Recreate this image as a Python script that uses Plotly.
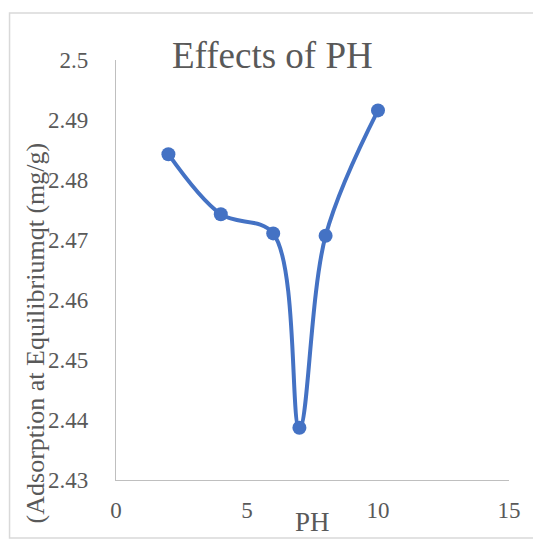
import plotly.graph_objects as go

# pH values and equilibrium adsorption qt (mg/g)
ph = [2, 4, 6, 7, 8, 10]
qt = [2.4843, 2.4743, 2.4711, 2.4387, 2.4707, 2.4916]

x_ticks = [0, 5, 10, 15]
y_ticks = [2.43, 2.44, 2.45, 2.46, 2.47, 2.48, 2.49, 2.5]
y_tick_text = ["2.43", "2.44", "2.45", "2.46", "2.47", "2.48", "2.49", "2.5"]

W, H = 533, 541
ML, MR, MT, MB = 116, 22, 60, 61
PW, PH_ = W - ML - MR, H - MT - MB

FONT = "Liberation Serif"
GREY = "#595959"
BLUE = "#4472C4"


def px_x(p):
    return (p - ML) / PW


def px_y(p):
    return (H - MB - p) / PH_


fig = go.Figure()
fig.add_trace(go.Scatter(
    x=ph, y=qt,
    mode="lines+markers",
    line=dict(color=BLUE, width=4, shape="spline", smoothing=1.0),
    marker=dict(color=BLUE, size=14),
    showlegend=False,
    hoverinfo="x+y",
))

fig.update_layout(
    width=W, height=H,
    margin=dict(l=ML, r=MR, t=MT, b=MB),
    paper_bgcolor="white",
    plot_bgcolor="white",
    font=dict(family=FONT, color=GREY, size=23),
    xaxis=dict(
        range=[0, 15], tickvals=x_ticks, showgrid=False, zeroline=False,
        showline=True, linecolor="#bfbfbf", linewidth=1.2, ticks="",
        ticklabelstandoff=9, tickfont=dict(size=23, color=GREY, family=FONT),
    ),
    yaxis=dict(
        range=[2.43, 2.5], tickvals=y_ticks, ticktext=y_tick_text,
        showgrid=False, zeroline=False,
        showline=True, linecolor="#bfbfbf", linewidth=1.2, ticks="",
        ticklabelstandoff=22, tickfont=dict(size=23, color=GREY, family=FONT),
    ),
    shapes=[dict(
        type="rect", xref="paper", yref="paper",
        x0=px_x(9), x1=px_x(545), y0=px_y(538), y1=px_y(13),
        line=dict(color="#d9d9d9", width=1.5), fillcolor="rgba(0,0,0,0)",
        layer="below",
    )],
    annotations=[
        dict(text="Effects of PH", xref="paper", yref="paper",
             x=px_x(273), y=px_y(55), xanchor="center", yanchor="middle",
             showarrow=False, font=dict(size=37, color=GREY, family=FONT)),
        dict(text="PH", xref="paper", yref="paper",
             x=px_x(313), y=px_y(522), xanchor="center", yanchor="middle",
             showarrow=False, font=dict(size=27, color=GREY, family=FONT)),
        dict(text="(Adsorption at Equilibriumqt (mg/g)", xref="paper", yref="paper",
             x=px_x(35), y=px_y(333), xanchor="center", yanchor="middle",
             textangle=-90, showarrow=False,
             font=dict(size=26, color=GREY, family=FONT)),
    ],
)

fig.write_html("out.html")
